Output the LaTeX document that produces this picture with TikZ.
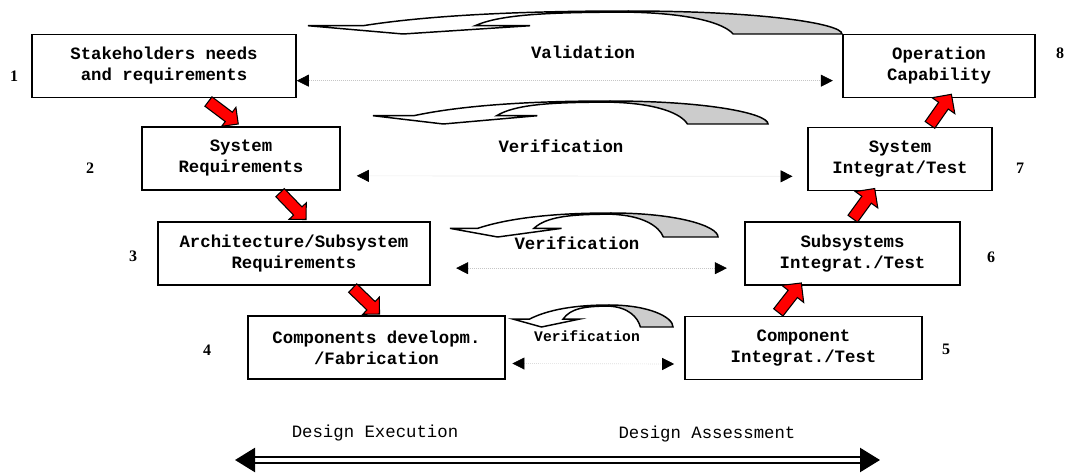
\documentclass[tikz,border=0pt]{standalone}
\usepackage{fontspec}
\setmonofont{Liberation Mono}
\newfontfamily\numfont{Liberation Serif}
\usetikzlibrary{positioning,shapes,arrows.meta}

% curved return arrow: tip x, right x, top y, base y
\newcommand{\loopback}[4]{%
	\pgfmathsetmacro{\lbw}{#2-#1}
	\pgfmathsetmacro{\lbh}{#4-#3}
	\filldraw[backface] ({#1+0.6*\lbw},#3) .. controls ({#1+0.85*\lbw},#3) and (#2,{#4-0.45*\lbh}) .. (#2,#4)
	-- ({#1+0.796*\lbw},#4) .. controls ({#1+0.78*\lbw},{#4-0.45*\lbh}) and ({#1+0.72*\lbw},{#3+0.1*\lbh}) .. ({#1+0.6*\lbw},{#3+0.05*\lbh}) -- cycle;
	\filldraw[frontface] (#1,{#4-0.36*\lbh}) -- ({#1+0.103*\lbw},{#4-0.36*\lbh})
	.. controls ({#1+0.25*\lbw},{#3+0.1*\lbh}) and ({#1+0.45*\lbw},#3) .. ({#1+0.6*\lbw},#3)
	-- ({#1+0.6*\lbw},{#3+0.05*\lbh})
	.. controls ({#1+0.45*\lbw},{#3+0.05*\lbh}) and ({#1+0.36*\lbw},{#3+0.15*\lbh}) .. ({#1+0.313*\lbw},{#4-0.36*\lbh})
	-- ({#1+0.416*\lbw},{#4-0.36*\lbh}) -- ({#1+0.178*\lbw},#4) -- cycle;
}

\begin{document}
\begin{tikzpicture}[x=0.75pt,y=-0.75pt,
										stage/.style={draw,line width=1.2pt,align=center,inner sep=0pt,minimum height=47pt,
											font=\ttfamily\bfseries\fontsize{13}{15.75}\selectfont},
										num/.style={font=\numfont\bfseries\fontsize{12}{14}\selectfont},
										vlabel/.style={font=\ttfamily\bfseries\fontsize{13}{15}\selectfont},
										phase/.style={font=\ttfamily\fontsize{13}{15}\selectfont},
										vline/.style={gray!45,densely dotted,line width=0.5pt,
											{Triangle[black,length=9pt,width=9pt]}-{Triangle[black,length=9pt,width=9pt]}},
										redarrow/.style={single arrow,draw=black,fill=red,line width=0.8pt,inner sep=4pt,
											minimum height=28pt,single arrow head extend=4.5pt},
										backface/.style={fill=gray!40,draw=black,line width=1.1pt},
										frontface/.style={fill=white,draw=black,line width=1.1pt},
										phasearrow/.style={double,double distance=2.4pt,line width=1.8pt,
											{Triangle[length=15pt,width=18pt]}-{Triangle[length=15pt,width=18pt]}}
										]
	\useasboundingbox (0,0) rectangle (1066,473);

	\node[stage,minimum width=198pt] (S1) at (164,66) {Stakeholders needs\\and requirements};
	\node[stage,minimum width=148.5pt] (S2) at (241,158.5) {System\\Requirements};
	\node[stage,minimum width=204pt] (S3) at (294,253.5) {Architecture/Subsystem\\Requirements};
	\node[stage,minimum width=192.75pt] (S4) at (376.5,347.5) {Components developm.\\/Fabrication};
	\node[stage,minimum width=177.75pt] (S5) at (803.5,348) {Component\\Integrat./Test};
	\node[stage,minimum width=161.25pt] (S6) at (852.5,253.5) {Subsystems\\Integrat./Test};
	\node[stage,minimum width=138pt] (S7) at (900,159) {System\\Integrat/Test};
	\node[stage,minimum width=144pt] (S8) at (939,66) {Operation\\Capability};

	\node[num] (N1) at (14,76) {1};
	\node[num] (N2) at (90,168) {2};
	\node[num] (N3) at (133,256) {3};
	\node[num] (N4) at (207,350) {4};
	\node[num] (N5) at (946,349) {5};
	\node[num] (N6) at (991,257) {6};
	\node[num] (N7) at (1020,168) {7};
	\node[num] (N8) at (1060,53) {8};

	\loopback{308}{842}{11}{34}
	\loopback{373}{768}{101}{124}
	\loopback{450}{718}{213}{237}
	\loopback{513}{673}{305}{327}

	\node[vlabel] (V1) at (583,52) {Validation};
	\node[vlabel] (V2) at (561,146) {Verification};
	\node[vlabel] (V3) at (577,243) {Verification};
	\node[vlabel,font=\ttfamily\bfseries\fontsize{11}{13}\selectfont] (V4) at (587,336) {Verification};

	\draw[vline] ([yshift=-11pt]S1.east) -- ([xshift=-7pt,yshift=-11pt]S8.west);
	\draw[vline] ([xshift=12pt,yshift=-13pt]S2.east) -- ([xshift=-11pt,yshift=-13pt]S7.west);
	\draw[vline] ([xshift=19pt,yshift=-11pt]S3.east) -- ([xshift=-13pt,yshift=-11pt]S6.west);
	\draw[vline] ([xshift=5pt,yshift=-12pt]S4.east) -- ([xshift=-7.5pt,yshift=-12pt]S5.west);

	\node[redarrow,rotate=-37] (A12) at (221,111) {};
	\node[redarrow,rotate=-46] (A23) at (291,204) {};
	\node[redarrow,rotate=-44] (A34) at (364,299) {};
	\node[redarrow,rotate=52,single arrow head extend=6pt] (A56) at (788,300) {};
	\node[redarrow,rotate=54,single arrow head extend=6pt] (A67) at (862,206) {};
	\node[redarrow,rotate=55,single arrow head extend=6pt] (A78) at (939,112) {};

	\coordinate (DL) at (235,460);
	\coordinate (DR) at (880,460);
	\draw[phasearrow] (DL) -- (DR);
	\node[phase] (PE) at (375,433) {Design Execution};
	\node[phase] (PA) at (707,434) {Design Assessment};

\end{tikzpicture}
\end{document}
